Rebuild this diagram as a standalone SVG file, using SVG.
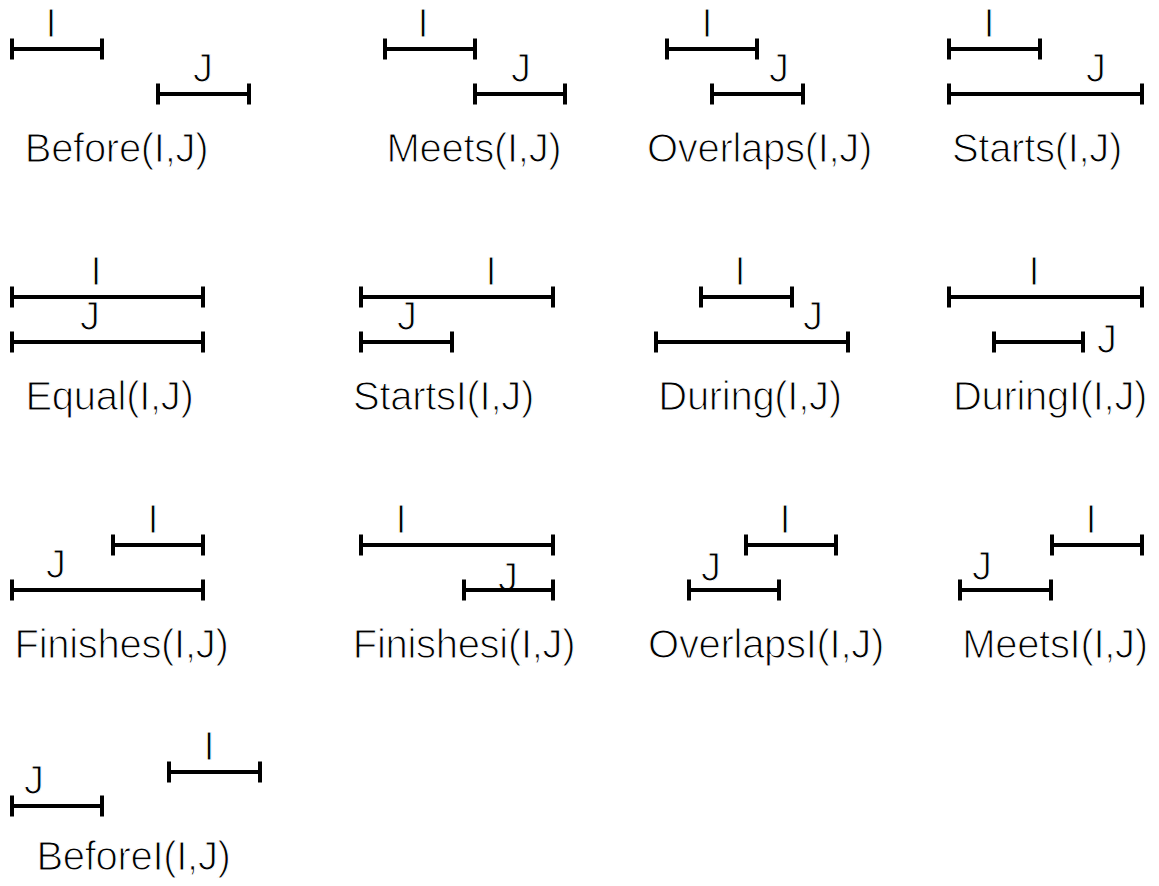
<svg xmlns="http://www.w3.org/2000/svg" width="1159" height="886" viewBox="0 0 1159 886">
  <style>
    .bar { fill: none; stroke: #000; stroke-width: 4; stroke-linecap: butt; }
    /* a thin white outline painted over the glyphs gives the light type weight */
    text { font-family: "Liberation Sans", Arial, Helvetica, sans-serif; font-size: 40px; fill: #000; text-anchor: middle; stroke: #fff; stroke-width: 1.1px; }
    .name { letter-spacing: -0.3px; }
  </style>
  <rect width="1159" height="886" fill="#fff"/>

  <!-- Row 1 -->
  <g id="before">
    <path class="bar" d="M12 49H102M12 38.5v21M102 38.5v21"/>
    <text x="51" y="37">I</text>
    <path class="bar" d="M158 94H249M158 83.5v21M249 83.5v21"/>
    <text x="203" y="82">J</text>
    <text class="name" x="116.5" y="162">Before(I,J)</text>
  </g>
  <g id="meets">
    <path class="bar" d="M385 49H475M385 38.5v21M475 38.5v21"/>
    <text x="423" y="37">I</text>
    <path class="bar" d="M475 94H565M475 83.5v21M565 83.5v21"/>
    <text x="521" y="82">J</text>
    <text class="name" x="474" y="162">Meets(I,J)</text>
  </g>
  <g id="overlaps">
    <path class="bar" d="M667 49H757M667 38.5v21M757 38.5v21"/>
    <text x="707" y="37">I</text>
    <path class="bar" d="M712 94H803M712 83.5v21M803 83.5v21"/>
    <text x="779" y="82">J</text>
    <text class="name" x="759.5" y="162">Overlaps(I,J)</text>
  </g>
  <g id="starts">
    <path class="bar" d="M949 49H1040M949 38.5v21M1040 38.5v21"/>
    <text x="989" y="37">I</text>
    <path class="bar" d="M949 94H1142M949 83.5v21M1142 83.5v21"/>
    <text x="1096" y="82">J</text>
    <text class="name" x="1037" y="162">Starts(I,J)</text>
  </g>

  <!-- Row 2 -->
  <g id="equal">
    <path class="bar" d="M12 297H203M12 286.5v21M203 286.5v21"/>
    <text x="96" y="285">I</text>
    <path class="bar" d="M12 342H203M12 331.5v21M203 331.5v21"/>
    <text x="90" y="330">J</text>
    <text class="name" x="109.5" y="410">Equal(I,J)</text>
  </g>
  <g id="startsI">
    <path class="bar" d="M361 297H553M361 286.5v21M553 286.5v21"/>
    <text x="491" y="285">I</text>
    <path class="bar" d="M361 342H452M361 331.5v21M452 331.5v21"/>
    <text x="407" y="330">J</text>
    <text class="name" x="443.5" y="410">StartsI(I,J)</text>
  </g>
  <g id="during">
    <path class="bar" d="M701 297H792M701 286.5v21M792 286.5v21"/>
    <text x="740" y="285">I</text>
    <path class="bar" d="M656 342H848M656 331.5v21M848 331.5v21"/>
    <text x="813" y="330">J</text>
    <text class="name" x="750" y="410">During(I,J)</text>
  </g>
  <g id="duringI">
    <path class="bar" d="M949 297H1142M949 286.5v21M1142 286.5v21"/>
    <text x="1034" y="285">I</text>
    <path class="bar" d="M994 342H1083M994 331.5v21M1083 331.5v21"/>
    <text x="1107" y="353">J</text>
    <text class="name" x="1050" y="410">DuringI(I,J)</text>
  </g>

  <!-- Row 3 -->
  <g id="finishes">
    <path class="bar" d="M113 545H203M113 534.5v21M203 534.5v21"/>
    <text x="153" y="533">I</text>
    <path class="bar" d="M12 590H203M12 579.5v21M203 579.5v21"/>
    <text x="56" y="578">J</text>
    <text class="name" x="121.5" y="658">Finishes(I,J)</text>
  </g>
  <g id="finishesi">
    <path class="bar" d="M361 545H553M361 534.5v21M553 534.5v21"/>
    <text x="401" y="533">I</text>
    <!-- this J sits on its bar, so the bar is drawn after it -->
    <text x="508" y="591">J</text>
    <path class="bar" d="M464 590H553M464 579.5v21M553 579.5v21"/>
    <text class="name" x="464" y="658">Finishesi(I,J)</text>
  </g>
  <g id="overlapsI">
    <path class="bar" d="M746 545H836M746 534.5v21M836 534.5v21"/>
    <text x="785" y="533">I</text>
    <path class="bar" d="M689 590H779M689 579.5v21M779 579.5v21"/>
    <text x="711" y="581">J</text>
    <text class="name" x="766" y="658">OverlapsI(I,J)</text>
  </g>
  <g id="meetsI">
    <path class="bar" d="M1052 545H1142M1052 534.5v21M1142 534.5v21"/>
    <text x="1091" y="533">I</text>
    <path class="bar" d="M960 590H1051M960 579.5v21M1051 579.5v21"/>
    <text x="982" y="580">J</text>
    <text class="name" x="1055" y="658">MeetsI(I,J)</text>
  </g>

  <!-- Row 4 -->
  <g id="beforeI">
    <path class="bar" d="M169 772H260M169 761.5v21M260 761.5v21"/>
    <text x="209" y="760">I</text>
    <path class="bar" d="M12 806H102M12 795.5v21M102 795.5v21"/>
    <text x="34" y="794">J</text>
    <text class="name" x="133.5" y="870">BeforeI(I,J)</text>
  </g>
</svg>
